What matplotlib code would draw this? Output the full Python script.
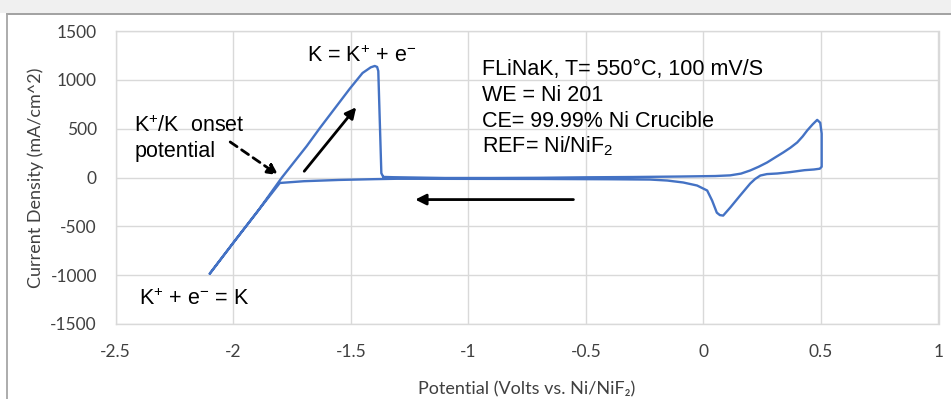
import matplotlib
matplotlib.use("Agg")
import matplotlib.pyplot as plt
from matplotlib.lines import Line2D
from matplotlib.patches import Rectangle

plt.rcParams['mathtext.fontset'] = 'custom'
plt.rcParams['mathtext.rm'] = 'Liberation Sans'
plt.rcParams['mathtext.it'] = 'Liberation Sans:italic'
plt.rcParams['mathtext.bf'] = 'Liberation Sans:bold'

# ---- data (potential V vs Ni/NiF2, current density mA/cm^2), one CV loop ----
potential = [-1.362, -1.32, -1.10, -0.90, -0.70, -0.50, -0.30, -0.10, 0.05, 0.114,
             0.16, 0.199, 0.235, 0.271, 0.305, 0.340, 0.370, 0.399, 0.422, 0.442,
             0.465, 0.484, 0.497, 0.503, 0.503, 0.495, 0.470, 0.430, 0.369, 0.314,
             0.270, 0.242, 0.220, 0.199, 0.156, 0.114, 0.084, 0.070, 0.057, 0.037,
             0.016, -0.027, -0.086, -0.154, -0.227, -0.40, -0.70, -1.00, -1.304, -1.40,
             -1.55, -1.70, -1.802, -1.894, -1.993, -2.100, -1.993, -1.894, -1.793, -1.688,
             -1.632, -1.504, -1.45, -1.415, -1.398, -1.388, -1.383, -1.370, -1.362]
current = [6, 3, -5, -5, -3, 2, 5, 10, 15, 22,
           40, 72, 110, 154, 205, 257, 305, 359, 420, 483,
           545, 590, 560, 450, 110, 90, 82, 75, 55, 41,
           35, 20, -15, -62, -185, -308, -390, -385, -360, -236,
           -133, -82, -51, -31, -21, -18, -15, -14, -13, -17,
           -25, -38, -56, -339, -647, -985, -647, -339, 0, 320,
           505, 910, 1070, 1128, 1142, 1132, 1090, 44, 6]

x_ticks = [-2.5, -2, -1.5, -1, -0.5, 0, 0.5, 1]
x_tick_labels = ['-2.5', '-2', '-1.5', '-1', '-0.5', '0', '0.5', '1']
y_ticks = [-1500, -1000, -500, 0, 500, 1000, 1500]
y_tick_labels = ['-1500', '-1000', '-500', '0', '500', '1000', '1500']

info_lines = ['FLiNaK, T= 550°C, 100 mV/S', 'WE = Ni 201',
              'CE= 99.99% Ni Crucible', 'REF= Ni/NiF$_{2}$']

W, H = 951, 399
fig = plt.figure(figsize=(W / 100, H / 100), dpi=100)
fig.patch.set_facecolor('white')

# window-like frame of the screenshot
fig.patches.append(Rectangle((0, 1 - 13 / H), 1, 13 / H, transform=fig.transFigure,
                             facecolor='#f0f0f0', edgecolor='none', zorder=0))
fig.lines.append(Line2D([7.3 / W, 1], [1 - 13.5 / H] * 2, transform=fig.transFigure,
                        color='#9a9a9a', lw=1.3))
fig.lines.append(Line2D([7.3 / W] * 2, [0, 1 - 13.5 / H], transform=fig.transFigure,
                        color='#a6a6a6', lw=1.3))

ax = fig.add_axes([115.7 / W, (H - 324) / H, (938.5 - 115.7) / W, (324 - 31) / H])
ax.set_xlim(-2.5, 1)
ax.set_ylim(-1500, 1500)
ax.set_xticks(x_ticks)
ax.set_xticklabels(x_tick_labels)
ax.set_yticks(y_ticks)
ax.set_yticklabels(y_tick_labels)
ax.grid(True, color='#d9d9d9', lw=1.0)
ax.set_axisbelow(True)
for s in ax.spines.values():
    s.set_color('#d9d9d9')
    s.set_linewidth(1.0)
ax.tick_params(length=0, labelsize=12.5, labelcolor='#404040')
ax.tick_params(axis='x', pad=14.5)
ax.tick_params(axis='y', pad=13.5)
for lab in ax.get_xticklabels() + ax.get_yticklabels():
    lab.set_fontfamily('Lato')

ax.plot(potential, current, color='#4472C4', lw=1.7, solid_joinstyle='round', zorder=3)

afont = dict(family='Liberation Sans', size=15.5, color='black')
ax.text(-1.687, 1180, r'K = K$^{+}$ + e$^{-}$', va='baseline', ha='left', **afont)
info_y = [1047, 786, 520, 254]
for t, yy in zip(info_lines, info_y):
    ax.text(-0.942, yy, t, va='baseline', ha='left', **afont)
ax.text(-2.421, 466, r'K$^{+}$/K  onset', va='baseline', ha='left', **afont)
ax.text(-2.421, 211, 'potential', va='baseline', ha='left', **afont)
ax.text(-2.400, -1306, r'K$^{+}$ + e$^{-}$ = K', va='baseline', ha='left', **afont)

# arrows
ax.annotate('', xy=(-1.808, 24), xytext=(-2.013, 364),
            arrowprops=dict(arrowstyle='-|>', color='black', lw=2, ls=(0, (3, 2)),
                            mutation_scale=16, shrinkA=0, shrinkB=0), zorder=4)
ax.annotate('', xy=(-1.477, 719), xytext=(-1.698, 64),
            arrowprops=dict(arrowstyle='-|>', color='black', lw=2,
                            mutation_scale=16, shrinkA=0, shrinkB=0), zorder=4)
ax.annotate('', xy=(-1.226, -226), xytext=(-0.553, -226),
            arrowprops=dict(arrowstyle='-|>', color='black', lw=2,
                            mutation_scale=16, shrinkA=0, shrinkB=0), zorder=4)

fig.text(36 / W, 1 - 177.5 / H, 'Current Density (mA/cm^2)', rotation=90,
         ha='center', va='center', family='Lato', size=13, color='#404040')
fig.text(527 / W, (H - 394.3) / H, 'Potential (Volts vs. Ni/NiF₂)', ha='center',
         va='baseline', family=['Lato', 'DejaVu Sans'], size=13, color='#404040')

fig.savefig('out.png', dpi=100)
